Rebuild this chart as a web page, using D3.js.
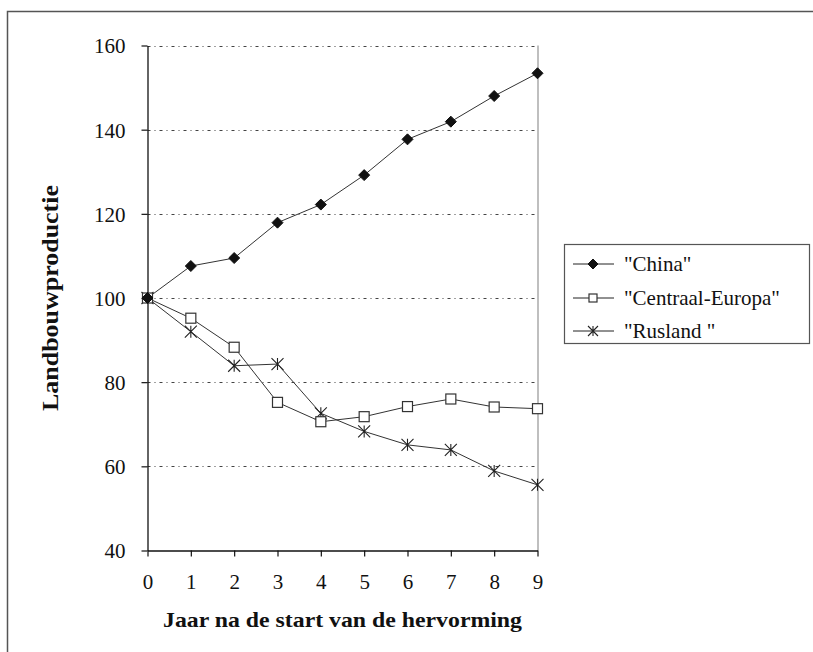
<!DOCTYPE html>
<html><head><meta charset="utf-8">
<script src="https://cdn.jsdelivr.net/npm/d3@7"></script>
<style>body{margin:0;background:#fff}svg{display:block}text{font-family:"Liberation Serif","Times New Roman",serif !important;fill:#111}</style>
</head><body>
<script>
const years = [0,1,2,3,4,5,6,7,8,9];
const china = [100,107.6,109.5,117.9,122.2,129.2,137.7,141.9,148,153.4];
const centraalEuropa = [100,95.2,88.3,75.2,70.6,71.8,74.2,76,74.1,73.7];
const rusland = [100,92,83.9,84.3,72.6,68.3,65.1,63.9,58.9,55.6];
const yTicks = [40,60,80,100,120,140,160];
const seriesNames = ['"China"','"Centraal-Europa"','"Rusland "'];
const markerTypes = ["diamond","square","star"];
const xTitle = "Jaar na de start van de hervorming";
const yTitle = "Landbouwproductie";
const SERIF = '"Liberation Serif","Times New Roman",serif';

const W=813,H=652;
const svg=d3.select("body").append("svg").attr("width",W).attr("height",H);
svg.append("rect").attr("x",7.5).attr("y",11.5).attr("width",1000).attr("height",1000)
  .attr("fill","none").attr("stroke","#555").attr("stroke-width",1.5);

const x=d3.scaleLinear().domain([0,9]).range([147.5,537.5]);
const y=d3.scaleLinear().domain([40,160]).range([550.5,45.5]);

// grid
svg.append("g").selectAll("line").data(yTicks.filter(t=>t>40)).join("line")
  .attr("x1",x(0)).attr("x2",x(9)).attr("y1",d=>Math.round(y(d))+0.5).attr("y2",d=>Math.round(y(d))+0.5)
  .attr("stroke","#444").attr("stroke-width",1).attr("stroke-dasharray","3,4,1,4");
// right edge
svg.append("line").attr("x1",x(9)+0.5).attr("x2",x(9)+0.5).attr("y1",y(160)).attr("y2",y(40))
  .attr("stroke","#aaa").attr("stroke-width",1.5);

// axes
const ya=svg.append("g").attr("transform",`translate(${x(0)},0)`)
  .call(d3.axisLeft(y).tickValues(yTicks).tickSize(6).tickSizeOuter(0).tickPadding(16));
const xa=svg.append("g").attr("transform",`translate(0,${y(40)})`)
  .call(d3.axisBottom(x).tickValues(years).tickSize(6).tickSizeOuter(0).tickPadding(18));
[ya,xa].forEach(g=>{
  g.attr("font-family",SERIF).attr("font-size",21);
  g.select(".domain").attr("stroke","#111").attr("stroke-width",1.3);
  g.selectAll(".tick line").attr("stroke","#111").attr("stroke-width",1.2);
  g.selectAll(".tick text").style("font-size","21px").style("font-family",SERIF).attr("fill","#111");
});
ya.selectAll(".tick text").attr("dy","0.35em");

// titles
svg.append("text").attr("x",163).attr("y",627).style("font-size","22px").attr("font-weight","bold")
  .attr("textLength",359).attr("lengthAdjust","spacingAndGlyphs").text(xTitle);
svg.append("text").attr("transform","translate(58,298) rotate(-90)").attr("text-anchor","middle")
  .style("font-size","23px").attr("font-weight","bold").attr("textLength",226).attr("lengthAdjust","spacingAndGlyphs").text(yTitle);

function marker(g,type,cx,cy,s){
  if(type==="diamond"){
    g.append("path").attr("d",`M${cx},${cy-s}L${cx+s},${cy}L${cx},${cy+s}L${cx-s},${cy}Z`).attr("fill","#111").attr("stroke","#111");
  }else if(type==="square"){
    g.append("rect").attr("x",cx-s).attr("y",cy-s).attr("width",2*s).attr("height",2*s)
      .attr("fill","#fff").attr("stroke","#333").attr("stroke-width",1.2);
  }else{
    g.append("path").attr("d",`M${cx-s},${cy-s}L${cx+s},${cy+s}M${cx-s},${cy+s}L${cx+s},${cy-s}M${cx},${cy-s}L${cx},${cy+s}`)
      .attr("stroke","#222").attr("stroke-width",1.1).attr("fill","none");
  }
}

const series=[china,centraalEuropa,rusland];
const line=d3.line().x((d,i)=>x(years[i])).y(d=>y(d));
const order=[2,1,0];
order.forEach(k=>{
  svg.append("path").datum(series[k]).attr("d",line).attr("fill","none").attr("stroke","#333").attr("stroke-width",1);
});
order.forEach(k=>{
  const g=svg.append("g");
  series[k].forEach((v,i)=>marker(g,markerTypes[k],x(years[i]),y(v),k===0?5.5:(k===1?5:6)));
});

// legend
const lg=svg.append("g");
lg.append("rect").attr("x",564.5).attr("y",244.5).attr("width",245).attr("height",99)
  .attr("fill","#fff").attr("stroke","#555").attr("stroke-width",1.2);
const rows=[264,298,331];
seriesNames.forEach((n,k)=>{
  lg.append("line").attr("x1",573).attr("x2",614).attr("y1",rows[k]).attr("y2",rows[k]).attr("stroke","#222").attr("stroke-width",1);
  marker(lg,markerTypes[k],593,rows[k],k===0?5:(k===1?4:5));
  lg.append("text").attr("x",624).attr("y",rows[k]).attr("dy","0.35em").style("font-size","21px").text(n);
});
</script>
</body></html>
